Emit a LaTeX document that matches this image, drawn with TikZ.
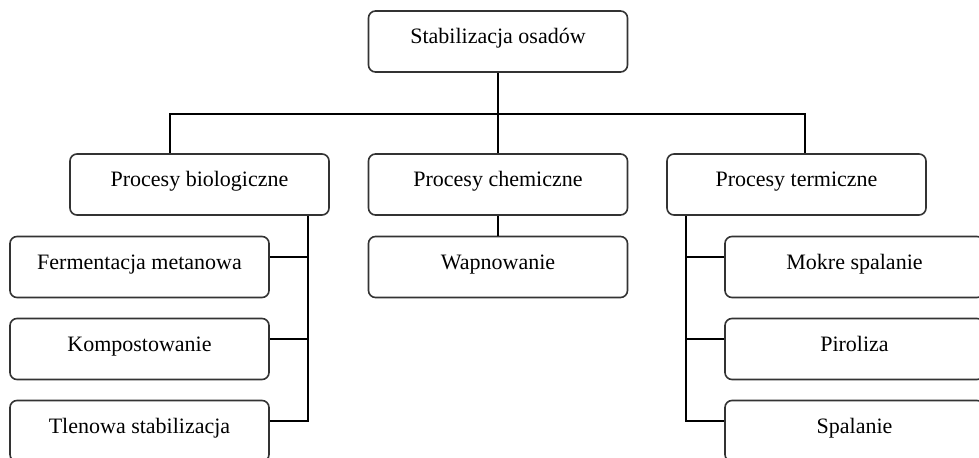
\documentclass[tikz,border=0pt]{standalone}
\usepackage{fontspec}
\setmainfont{Liberation Serif}
\begin{document}
\begin{tikzpicture}[x=.5pt,y=-.5pt,
  box/.style={draw=black!80,line width=.8pt,rounded corners=3.5pt,fill=white,
    minimum width=129.5pt,minimum height=30.5pt,inner sep=0pt,
    font=\fontsize{11}{13}\selectfont,text height=1.5ex,text depth=1ex},
  conn/.style={line width=.6pt}]
\clip (0,0) rectangle (979,458);
\fill[white] (0,0) rectangle (979,458);
\node[box](top) at (498,41.5){Stabilizacja osadów};
\node[box](bio) at (199.5,184.5){Procesy biologiczne};
\node[box](chem) at (498,184.5){Procesy chemiczne};
\node[box](term) at (796.5,184.5){Procesy termiczne};
\node[box](wap) at (498,267){Wapnowanie};
\foreach \t [count=\i] in {Fermentacja metanowa,Kompostowanie,Tlenowa stabilizacja}
    \node[box](l\i) at (139.5,{267+82*(\i-1)}){\t};
\foreach \t [count=\i] in {Mokre spalanie,Piroliza,Spalanie}
    \node[box](r\i) at (854.5,{267+82*(\i-1)}){\t};
\coordinate (busL) at (170,114);
\coordinate (busR) at (805,114);
\coordinate (sl) at (308,0);
\coordinate (sr) at (686,0);
\draw[conn](top)--(chem);
\draw[conn](bio.north -| busL) |- (busR) -- (busR |- term.north);
\draw[conn](chem)--(wap);
\foreach \i in {1,2,3}
{
    \draw[conn]([yshift=5pt]l\i.east) -| (sl |- bio.south);
    \draw[conn]([yshift=5pt]r\i.west) -| (sr |- term.south);
}
\end{tikzpicture}
\end{document}
